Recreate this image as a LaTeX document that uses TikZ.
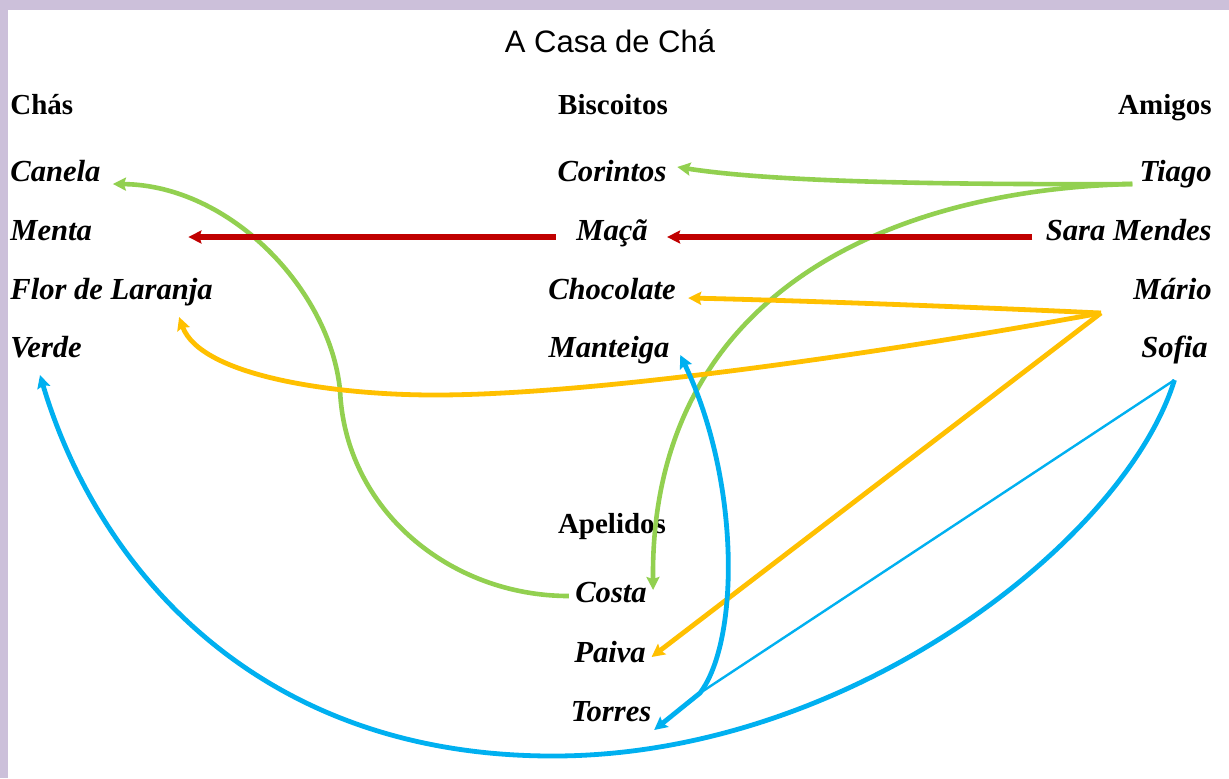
\documentclass[tikz,border=0pt]{standalone}
\usepackage{fontspec}
\setmainfont{Liberation Serif}
\newfontfamily\titlefont{Liberation Sans}
\usetikzlibrary{arrows.meta}
\definecolor{lilas}{RGB}{204,192,218}
\definecolor{verdelink}{RGB}{146,208,80}
\definecolor{vermelho}{RGB}{192,0,0}
\definecolor{laranja}{RGB}{255,192,0}
\definecolor{azul}{RGB}{0,176,240}

\begin{document}
\begin{tikzpicture}[x=0.5pt,y=-0.5pt,inner sep=0pt,
	titulo/.style={font=\titlefont\fontsize{15.5}{18}\selectfont},
	cabeca/.style={font=\fontsize{14.5}{17}\selectfont\bfseries},
	item/.style={font=\fontsize{15.3}{18}\selectfont\bfseries\itshape},
	seta/.style={-{Stealth[length=6.5pt,width=6.5pt,inset=1pt]}},
	verdes/.style={seta,draw=verdelink,line width=2.3pt},
	vermelhas/.style={seta,draw=vermelho,line width=3.3pt},
	laranjas/.style={seta,draw=laranja,line width=2.4pt},
	azuis/.style={seta,draw=azul,line width=2.4pt}]
	\useasboundingbox (0,0) rectangle (1229,778);
	\fill[white] (0,0) rectangle (1229,778);
	\fill[lilas] (0,0) rectangle (1229,10);
	\fill[lilas] (0,0) rectangle (8,778);

	\node[titulo,anchor=base] (casa) at (610,52) {A Casa de Chá};

	\node[cabeca,anchor=base west] (chas) at (10,114) {Chás};
	\node[item,anchor=base west] (canela) at (10,181) {Canela};
	\node[item,anchor=base west] (menta) at (10,240) {Menta};
	\node[item,anchor=base west] (flor) at (10,299) {Flor de Laranja};
	\node[item,anchor=base west] (verde) at (10,357) {Verde};

	\node[cabeca,anchor=base] (biscoitos) at (613,114) {Biscoitos};
	\node[item,anchor=base] (corintos) at (612,181) {Corintos};
	\node[item,anchor=base] (maca) at (612,240) {Maçã};
	\node[item,anchor=base] (chocolate) at (612,299) {Chocolate};
	\node[item,anchor=base] (manteiga) at (609,357) {Manteiga};

	\node[cabeca,anchor=base] (apelidos) at (612,533) {Apelidos};
	\node[item,anchor=base] (costa) at (611,602) {Costa};
	\node[item,anchor=base] (paiva) at (610,662) {Paiva};
	\node[item,anchor=base] (torres) at (611,721) {Torres};

	\node[cabeca,anchor=base east] (amigos) at (1212,114) {Amigos};
	\node[item,anchor=base east] (tiago) at (1212,181) {Tiago};
	\node[item,anchor=base east] (sara) at (1212,240) {Sara Mendes};
	\node[item,anchor=base east] (mario) at (1212,299) {Mário};
	\node[item,anchor=base east] (sofia) at (1208,357) {Sofia};

	\coordinate (elo) at (700,693);

	\draw[verdes] ([shift={(-7,3)}]tiago.base west) .. controls (900,185) and (760,180) .. ([shift={(10.5,-14)}]corintos.base east);
	\draw[verdes] ([shift={(-7,3)}]tiago.base west) .. controls (880,190) and (650,300) .. ([shift={(6,-12)}]costa.base east);
	\draw[verdes] ([shift={(-6,-6)}]costa.base west) .. controls (450,596) and (345,510) .. (340,390)
		.. controls (330,290) and (230,185) .. ([shift={(12,3)}]canela.base east);

	\draw[vermelhas] ([shift={(-20,-3)}]maca.base west) -- ([shift={(96,-3)}]menta.base east);
	\draw[vermelhas] ([shift={(-13,-3)}]sara.base west) -- ([shift={(19,-3)}]maca.base east);

	\draw[laranjas] ([shift={(-32,14)}]mario.base west) .. controls (950,306) and (780,300) .. ([shift={(12,-1)}]chocolate.base east);
	\draw[laranjas] ([shift={(-32,14)}]mario.base west) .. controls (900,350) and (600,395) .. (435,395)
		.. controls (330,395) and (200,375) .. ([shift={(-34,18)}]flor.base east);
	\draw[laranjas] ([shift={(-32,14)}]mario.base west) -- ([shift={(5.5,-5)}]paiva.base east);

	\draw[azuis,{Stealth[length=6.5pt,width=6.5pt,inset=1pt]}-{Stealth[length=6.5pt,width=6.5pt,inset=1pt]}]
		([shift={(2.5,9)}]torres.base east) -- (elo) .. controls (740,640) and (740,480) .. ([shift={(10.5,-2)}]manteiga.base east);
	\draw[draw=azul,line width=1.2pt] ([shift={(0,23)}]sofia.base) -- (elo);
	\draw[azuis] ([shift={(0,23)}]sofia.base) .. controls (1125,540) and (850,756) .. (553,756)
		.. controls (250,756) and (95,560) .. ([shift={(30,18)}]verde.base west);
\end{tikzpicture}
\end{document}
